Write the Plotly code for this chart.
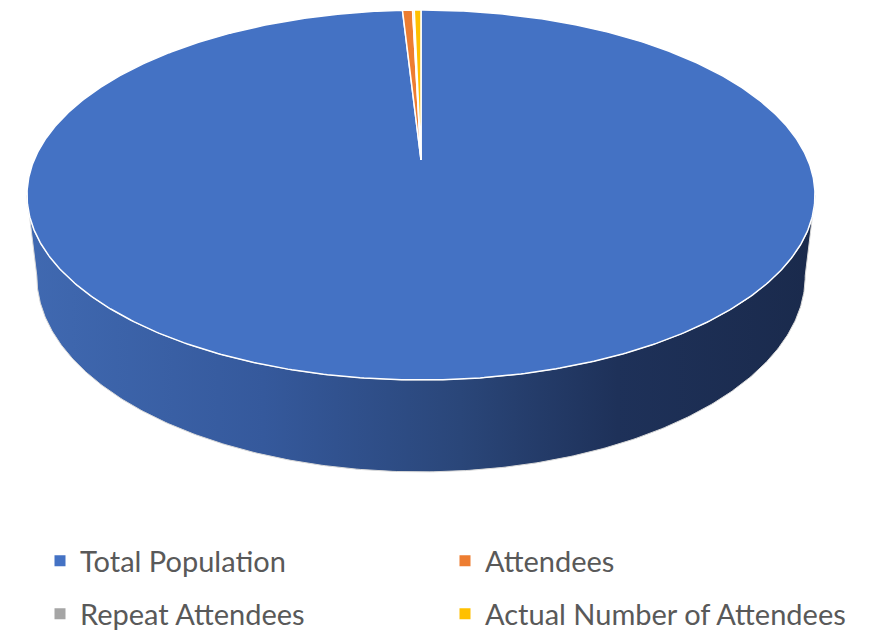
import numpy as np
import plotly.graph_objects as go

# ---------------- data ----------------
categories = ["Total Population", "Attendees", "Repeat Attendees", "Actual Number of Attendees"]
values = [30000, 150, 25, 100]
colors = ["#4472C4", "#ED7D31", "#A5A5A5", "#FFC000"]
legend_ids = ["legend", "legend", "legend2", "legend2"]

# ---------------- 3D pie geometry (style) ----------------
W, H = 879, 634
OFF = 8                    # page body margin compensation
alpha = np.radians(28.0)   # elevation of the view
L = 4.67                   # camera distance (in radii)
depth = 0.245              # pie thickness (in radii)
box_x = (27 - OFF, 815 - OFF)   # pixel extent of top face
box_y = (10 - OFF, 380 - OFF)
sa, ca = np.sin(alpha), np.cos(alpha)


def project(X, Y, Z):
    py = Y + L * ca
    pz = Z - L * sa
    d = py * ca - pz * sa
    up = py * sa + pz * ca
    return X / d, up / d


th_all = np.linspace(0, 2 * np.pi, 721)
u_top, v_top = project(np.sin(th_all), np.cos(th_all), 0.0)
sx = (box_x[1] - box_x[0]) / (u_top.max() - u_top.min())
sy = (box_y[1] - box_y[0]) / (v_top.max() - v_top.min())
umin, vmax = u_top.min(), v_top.max()


def to_px(X, Y, Z):
    u, v = project(X, Y, Z)
    return box_x[0] + (u - umin) * sx, box_y[0] + (vmax - v) * sy


fig = go.Figure()

# side wall (front visible part) of the pie
xt, yt = to_px(np.sin(th_all), np.cos(th_all), 0.0)
xb, yb = to_px(np.sin(th_all), np.cos(th_all), -depth)
i_r_t = np.argmax(np.where(th_all <= np.pi, xt, -1e9))
i_l_t = np.argmin(np.where(th_all >= np.pi, xt, 1e9))
i_r_b = np.argmax(np.where(th_all <= np.pi, xb, -1e9))
i_l_b = np.argmin(np.where(th_all >= np.pi, xb, 1e9))
side_x = np.concatenate([xt[i_r_t:i_l_t + 1], xb[i_r_b:i_l_b + 1][::-1], [xt[i_r_t]]])
side_y = np.concatenate([yt[i_r_t:i_l_t + 1], yb[i_r_b:i_l_b + 1][::-1], [yt[i_r_t]]])
fig.add_trace(go.Scatter(
    x=side_x, y=side_y, mode="lines", fill="toself",
    line=dict(color="#D9D9D9", width=1),
    fillgradient=dict(type="horizontal", colorscale=[
        [0.0, "#4069B1"], [0.3, "#35599C"], [0.55, "#2A4679"],
        [0.75, "#1E3159"], [1.0, "#1A2A4C"]]),
    hoverinfo="skip", showlegend=False))

# top face slices (clockwise from 12 o'clock)
total = float(sum(values))
cum = np.concatenate([[0.0], np.cumsum(values)]) / total * 2 * np.pi
for i, name in enumerate(categories):
    a0, a1 = cum[i], cum[i + 1]
    n = max(3, int((a1 - a0) / (2 * np.pi) * 720) + 2)
    th = np.linspace(a0, a1, n)
    ax_, ay_ = to_px(np.sin(th), np.cos(th), 0.0)
    cx, cy = to_px(0.0, 0.0, 0.0)
    px = np.concatenate([[cx], ax_, [cx]])
    py = np.concatenate([[cy], ay_, [cy]])
    fig.add_trace(go.Scatter(
        x=px, y=py, mode="lines", fill="toself", fillcolor=colors[i],
        line=dict(color="white", width=1.5), name=name,
        hoverinfo="name", showlegend=False))

# legend entries
for i, name in enumerate(categories):
    fig.add_trace(go.Scatter(
        x=[None], y=[None], mode="markers", name=name,
        marker=dict(symbol="square", size=11, color=colors[i]),
        legend=legend_ids[i], showlegend=True))

leg_common = dict(orientation="h", xanchor="left", yanchor="middle",
                  entrywidth=360, entrywidthmode="pixels",
                  font=dict(family="Lato", size=29, color="#595959"),
                  bgcolor="rgba(0,0,0,0)", itemclick=False, itemdoubleclick=False)

fig.update_layout(
    width=W, height=H,
    margin=dict(l=0, r=0, t=0, b=0, autoexpand=False),
    paper_bgcolor="white", plot_bgcolor="white",
    xaxis=dict(range=[0, W], visible=False, fixedrange=True),
    yaxis=dict(range=[H, 0], visible=False, fixedrange=True),
    legend=dict(x=(40 - OFF) / W, y=1 - (561 - OFF) / H, **leg_common),
    legend2=dict(x=(40 - OFF) / W, y=1 - (614 - OFF) / H, **leg_common),
)

fig.write_html("out.html")
